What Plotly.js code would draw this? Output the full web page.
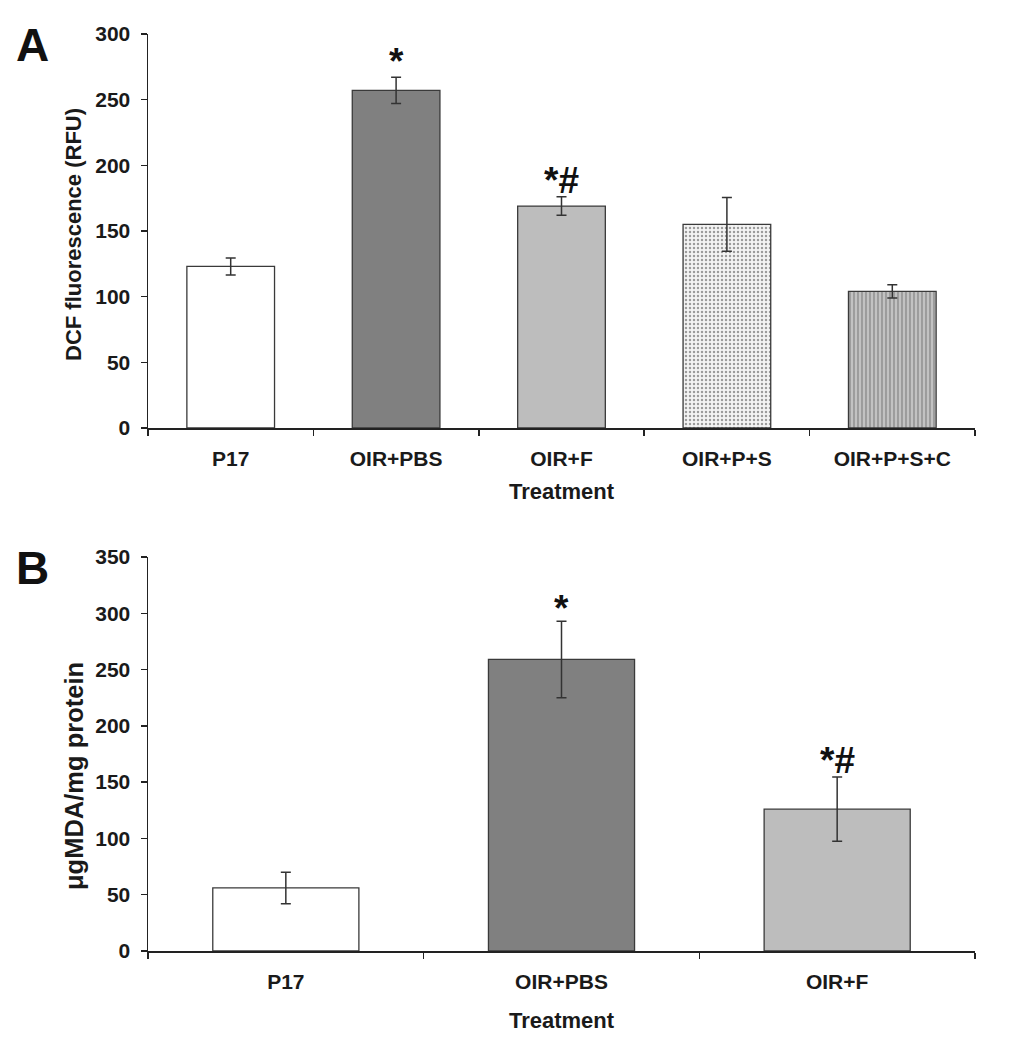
<!DOCTYPE html>
<html>
<head>
<meta charset="utf-8">
<script src="https://cdn.plot.ly/plotly-3.0.1.min.js"></script>
<style>
  html, body { margin: 0; padding: 0; background: #fff; }
  #chart { width: 1011px; height: 1050px; }
</style>
</head>
<body>
<div id="chart"></div>
<script>
// ---- Data ----
const categoriesA = ['P17', 'OIR+PBS', 'OIR+F', 'OIR+P+S', 'OIR+P+S+C'];
const valuesA = [123, 257, 169, 155, 104];
const errorsA = [6.5, 10, 7, 20.5, 5];
const signifA = ['', '*', '*#', '', ''];

const categoriesB = ['P17', 'OIR+PBS', 'OIR+F'];
const valuesB = [56, 259, 126];
const errorsB = [14, 34, 28.5];
const signifB = ['', '*', '*#'];

const yTitleA = 'DCF fluorescence (RFU)';
const yTitleB = '\u03bcgMDA/mg protein';
const xTitle = 'Treatment';

// ---- Styling ----
const colorsA = ['#ffffff', '#808080', '#bdbdbd', '#f4f4f4', '#c2c2c2'];
const patternShapesA = ['', '', '', '.', '|'];
const patternFgA = ['#000', '#000', '#000', '#c4c4c4', '#a3a3a3'];
const colorsB = ['#ffffff', '#808080', '#bdbdbd'];
const shiftA = [0, -7, -6, 0, 0];
const shiftB = [0, -10, -6];

const FONT = 'Liberation Sans, Arial, Helvetica, sans-serif';
const tickFont = { family: FONT, size: 21, color: '#1a1a1a', weight: 700 };
const titleFont = { family: FONT, size: 22, color: '#1a1a1a', weight: 700 };
const W = 1011, H = 1050;

const traceA = {
  type: 'bar', x: categoriesA, y: valuesA, xaxis: 'x', yaxis: 'y',
  width: 0.53,
  marker: {
    color: colorsA,
    line: { color: '#3a3a3a', width: 1.3 },
    pattern: { shape: patternShapesA, fgcolor: patternFgA, fillmode: 'overlay', size: 4, solidity: 0.3 }
  },
  error_y: { type: 'data', array: errorsA, visible: true, color: '#333', thickness: 1.5, width: 5 },
  hoverinfo: 'none'
};
const traceB = {
  type: 'bar', x: categoriesB, y: valuesB, xaxis: 'x2', yaxis: 'y2',
  width: 0.53,
  marker: { color: colorsB, line: { color: '#3a3a3a', width: 1.3 } },
  error_y: { type: 'data', array: errorsB, visible: true, color: '#333', thickness: 1.5, width: 5 },
  hoverinfo: 'none'
};

const xDom = [148 / W, 975 / W];
const axCommon = {
  showline: true, linecolor: '#222', linewidth: 1.5,
  ticks: 'outside', ticklen: 6, tickwidth: 1.5, tickcolor: '#222',
  showgrid: false, zeroline: false, tickfont: tickFont, fixedrange: true
};

const annotations = [];
signifA.forEach((s, i) => {
  if (s) annotations.push({
    xref: 'x', yref: 'y', x: categoriesA[i], y: valuesA[i] + errorsA[i],
    text: '<b>' + s + '</b>', showarrow: false, yanchor: 'bottom', yshift: shiftA[i],
    font: { family: FONT, size: 37, color: '#111' }
  });
});
signifB.forEach((s, i) => {
  if (s) annotations.push({
    xref: 'x2', yref: 'y2', x: categoriesB[i], y: valuesB[i] + errorsB[i],
    text: '<b>' + s + '</b>', showarrow: false, yanchor: 'bottom', yshift: shiftB[i],
    font: { family: FONT, size: 37, color: '#111' }
  });
});
annotations.push({
  xref: 'paper', yref: 'paper', x: 14 / W, y: 1 - 17 / H, xanchor: 'left', yanchor: 'top',
  text: '<b>A</b>', showarrow: false, font: { family: FONT, size: 46, color: '#111' }
});
annotations.push({
  xref: 'paper', yref: 'paper', x: 14 / W, y: 1 - 540 / H, xanchor: 'left', yanchor: 'top',
  text: '<b>B</b>', showarrow: false, font: { family: FONT, size: 46, color: '#111' }
});
annotations.push({
  xref: 'paper', yref: 'paper', x: 74 / W, y: 1 - 235 / H, xanchor: 'center', yanchor: 'middle',
  textangle: -90, text: '<b>' + yTitleA + '</b>', showarrow: false,
  font: { family: FONT, size: 22, color: '#1a1a1a' }
});
annotations.push({
  xref: 'paper', yref: 'paper', x: 74 / W, y: 1 - 776 / H, xanchor: 'center', yanchor: 'middle',
  textangle: -90, text: '<b>' + yTitleB + '</b>', showarrow: false,
  font: { family: FONT, size: 25.5, color: '#1a1a1a' }
});

const layout = {
  width: W, height: H,
  margin: { l: 0, r: 0, t: 0, b: 0 },
  paper_bgcolor: '#fff', plot_bgcolor: '#fff',
  showlegend: false,
  font: { family: FONT },
  xaxis: Object.assign({}, axCommon, {
    domain: xDom, anchor: 'y', type: 'category', range: [-0.5, 4.5],
    tickson: 'boundaries', ticklabelstandoff: 11,
    title: { text: xTitle, font: titleFont, standoff: 15 }
  }),
  yaxis: Object.assign({}, axCommon, {
    domain: [1 - 428 / H, 1 - 34 / H], anchor: 'x', range: [0, 300], dtick: 50,
    ticklabelstandoff: 6
  }),
  xaxis2: Object.assign({}, axCommon, {
    domain: xDom, anchor: 'y2', type: 'category', range: [-0.5, 2.5],
    tickson: 'boundaries', ticklabelstandoff: 11,
    title: { text: xTitle, font: titleFont, standoff: 21 }
  }),
  yaxis2: Object.assign({}, axCommon, {
    domain: [1 - 951 / H, 1 - 557 / H], anchor: 'x2', range: [0, 350], dtick: 50,
    ticklabelstandoff: 6
  }),
  annotations: annotations
};

Plotly.newPlot('chart', [traceA, traceB], layout, { displayModeBar: false, staticPlot: true });
</script>
</body>
</html>
